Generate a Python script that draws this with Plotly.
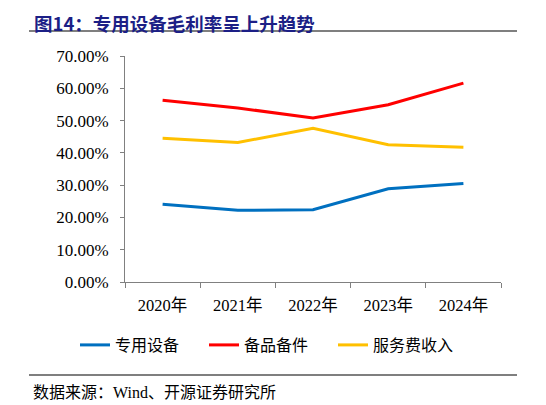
import plotly.graph_objects as go

years = ["2020年", "2021年", "2022年", "2023年", "2024年"]
equipment = [24.1, 22.2, 22.4, 28.9, 30.5]
spare_parts = [56.3, 53.9, 50.8, 54.9, 61.6]
service = [44.5, 43.2, 47.6, 42.5, 41.7]
series_names = ["专用设备", "备品备件", "服务费收入"]
colors = ["#0070C0", "#FF0000", "#FFC000"]
yticks = [0, 10, 20, 30, 40, 50, 60, 70]
ytick_text = [f"{v:.2f}%" for v in yticks]

FONT = "Liberation Serif, Times New Roman, Noto Sans CJK SC"

# page has 8px body margin: figure coords = screenshot coords - 8
L, T, R, B = 117, 48, 493, 274
PW, PH = R - L, B - T

def px(x):
    return (x - L) / PW

def py(y):
    return (B - y) / PH

fig = go.Figure()
for name, vals, c in zip(series_names, [equipment, spare_parts, service], colors):
    fig.add_trace(go.Scatter(x=years, y=vals, mode="lines", name=name,
                             line=dict(color=c, width=3)))

fig.update_layout(
    width=546, height=405,
    margin=dict(l=L, r=546 - R, t=T, b=405 - B, autoexpand=False),
    paper_bgcolor="white", plot_bgcolor="white",
    font=dict(family=FONT, size=16, color="#000"),
    showlegend=True,
    legend=dict(orientation="h", x=px(67), xanchor="left", y=py(337), yanchor="middle",
                font=dict(family="Noto Sans CJK SC", size=16),
                entrywidth=84, entrywidthmode="pixels", tracegroupgap=0),
    xaxis=dict(type="category", range=[-0.5, 4.5], showline=True, linecolor="#808080", linewidth=1,
               ticks="outside", tickson="boundaries", ticklen=5, tickcolor="#808080",
               showgrid=False, tickfont=dict(family=FONT, size=16.5), ticklabelstandoff=8),
    yaxis=dict(range=[0, 70], tickvals=yticks, ticktext=ytick_text,
               showline=True, linecolor="#808080", linewidth=1,
               ticks="outside", ticklen=4, tickcolor="#808080",
               showgrid=False, zeroline=False, tickfont=dict(family=FONT, size=17),
               ticklabelstandoff=8),
)

fig.add_annotation(text="<b>图14：专用设备毛利率呈上升趋势</b>", xref="paper", yref="paper",
                   x=px(24), y=py(0), xanchor="left", yanchor="top",
                   showarrow=False, font=dict(family="Noto Sans CJK SC", size=18.5, color="#1C1F86"))
fig.add_shape(type="line", xref="paper", yref="paper",
              x0=px(21), x1=px(509), y0=py(23), y1=py(23),
              line=dict(color="#000", width=1.2))
fig.add_shape(type="line", xref="paper", yref="paper",
              x0=px(21), x1=px(509), y0=py(367), y1=py(367),
              line=dict(color="#000", width=1.2))
fig.add_annotation(text="数据来源：Wind、开源证券研究所", xref="paper", yref="paper",
                   x=px(23), y=py(384), xanchor="left", yanchor="middle",
                   showarrow=False, font=dict(family="Liberation Serif, Noto Sans CJK SC", size=16, color="#000"))

fig.write_html("out.html")
